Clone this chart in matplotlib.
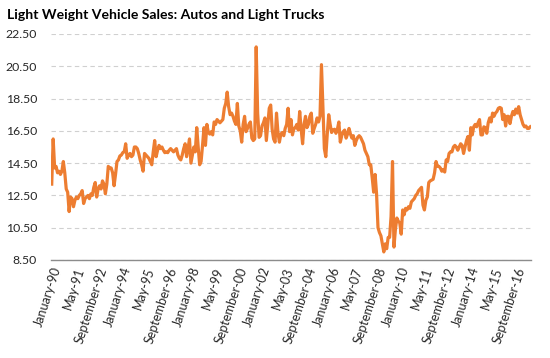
import matplotlib
matplotlib.use("Agg")
import matplotlib.pyplot as plt
import numpy as np

# Monthly light-weight vehicle sales (millions, SAAR), Jan 1990 - Jul 2017
sales_1990s = [
    13.2, 16.0, 14.2, 14.3, 13.9, 14.0, 13.8, 14.0, 14.6, 13.9, 12.9, 12.7,   # 1990
    11.5, 12.4, 12.3, 11.8, 12.2, 12.4, 12.3, 12.5, 12.6, 12.8, 12.0, 12.3,   # 1991
    12.4, 12.5, 12.3, 12.6, 12.5, 13.0, 13.3, 12.4, 12.9, 13.1, 12.9, 13.4,   # 1992
    13.2, 12.6, 13.2, 14.3, 14.2, 14.2, 13.9, 13.1, 13.8, 14.6, 14.7, 14.95,  # 1993
    15.0, 15.15, 15.2, 15.7, 14.8, 15.0, 15.1, 14.9, 15.0, 15.5, 15.5, 15.4,  # 1994
    15.1, 14.7, 14.4, 14.0, 15.1, 15.0, 14.9, 14.8, 14.6, 14.4, 15.2, 15.9,   # 1995
    14.9, 15.3, 15.6, 15.4, 15.5, 15.3, 15.15, 15.2, 15.15, 15.3, 15.4, 15.3, # 1996
    15.2, 15.3, 15.4, 15.0, 14.8, 14.7, 15.0, 15.4, 15.7, 14.9, 15.4, 16.0,   # 1997
    14.5, 15.0, 15.5, 15.2, 16.7, 15.5, 14.4, 14.6, 15.6, 16.7, 15.6, 16.9,   # 1998
    16.4, 16.3, 16.45, 16.25, 17.05, 16.9, 17.2, 17.1, 17.0, 17.1, 17.2, 17.9,# 1999
]
sales_2000s = [
    18.2, 18.9, 18.0, 17.5, 17.6, 17.4, 17.1, 16.9, 18.2, 16.8, 16.5, 15.8,   # 2000
    16.9, 17.4, 16.45, 16.65, 16.9, 17.05, 16.05, 15.9, 16.0, 21.7, 17.6, 16.1,# 2001
    16.2, 16.8, 17.0, 17.3, 15.9, 16.9, 17.9, 18.1, 16.6, 16.0, 15.8, 17.6,   # 2002
    16.4, 15.8, 16.3, 16.4, 16.2, 16.65, 16.9, 17.9, 16.45, 17.2, 16.25, 16.65,# 2003
    16.7, 16.9, 16.55, 17.7, 16.6, 15.7, 16.9, 17.4, 16.7, 16.9, 17.4, 17.6,  # 2004
    16.35, 16.65, 16.9, 17.3, 17.05, 17.4, 20.6, 18.0, 15.4, 14.9, 16.3, 17.5,# 2005
    16.9, 16.4, 16.55, 16.6, 16.35, 16.6, 17.05, 15.8, 16.2, 16.45, 16.55, 16.05,# 2006
    16.3, 16.65, 16.3, 16.05, 16.2, 15.6, 15.9, 16.1, 16.2, 16.1, 15.9, 15.7, # 2007
    15.3, 15.1, 14.9, 14.4, 14.4, 13.6, 12.7, 13.8, 12.6, 10.5, 10.2, 10.0,   # 2008
    9.5, 9.0, 9.5, 9.2, 9.9, 9.9, 11.2, 14.6, 9.3, 10.4, 11.1, 10.9,          # 2009
]
sales_2010s = [
    10.8, 10.1, 11.6, 11.3, 11.7, 11.6, 11.8, 11.7, 12.1, 12.2, 12.3, 12.5,   # 2010
    12.6, 12.8, 12.9, 13.0, 11.9, 11.6, 12.2, 12.4, 13.3, 13.4, 13.45, 13.5,  # 2011
    13.9, 14.6, 14.3, 14.3, 14.2, 14.0, 14.1, 13.95, 14.7, 14.6, 15.1, 15.2,  # 2012
    15.2, 15.5, 15.6, 15.5, 15.3, 15.5, 15.7, 15.6, 15.1, 15.5, 15.9, 16.15,  # 2013
    15.3, 16.7, 16.25, 16.75, 16.9, 16.75, 17.0, 17.2, 16.25, 16.25, 16.75, 16.7,# 2014
    16.35, 17.0, 17.3, 17.05, 17.6, 17.4, 17.6, 17.7, 17.9, 17.95, 17.9, 17.2,# 2015
    17.5, 16.8, 17.4, 17.4, 16.95, 17.4, 17.7, 17.5, 17.85, 17.6, 18.0, 17.5, # 2016
    17.2, 16.9, 16.75, 16.8, 16.65, 16.65, 16.75,                             # 2017
]
sales = sales_1990s + sales_2000s + sales_2010s

tick_labels = ["January-90", "May-91", "September-92", "January-94", "May-95",
               "September-96", "January-98", "May-99", "September-00", "January-02",
               "May-03", "September-04", "January-06", "May-07", "September-08",
               "January-10", "May-11", "September-12", "January-14", "May-15",
               "September-16"]
y_ticks = [8.5, 10.5, 12.5, 14.5, 16.5, 18.5, 20.5, 22.5]
title = "Light Weight Vehicle Sales: Autos and Light Trucks"

plt.rcParams['font.family'] = ['Lato', 'DejaVu Sans']

fig = plt.figure(figsize=(5.5, 3.58), dpi=100)
ax = fig.add_axes([51/550, 1 - 260/358, 480/550, 226/358])

x = np.arange(len(sales))
ax.plot(x, sales, color="#ED7D31", linewidth=2.3, solid_joinstyle="round", zorder=3)

ax.set_ylim(8.5, 22.5)
ax.set_xlim(-0.5, len(sales) - 0.5)
ax.set_yticks(y_ticks)
ax.set_yticklabels([f"{v:.2f}" for v in y_ticks], fontsize=8.8, color="#262626")
ax.yaxis.grid(True, color="#D0D0D0", linestyle=(0, (4, 3)), linewidth=0.8)
ax.set_axisbelow(True)

tick_pos = np.arange(0, len(tick_labels) * 16, 16)
ax.set_xticks(tick_pos)
ax.set_xticklabels(tick_labels, rotation=72, ha="right", va="top",
                   rotation_mode="anchor", fontsize=9, color="#262626")
ax.tick_params(axis="both", length=0, pad=4)
ax.tick_params(axis="y", pad=10)

for s in ["left", "right", "top"]:
    ax.spines[s].set_visible(False)
ax.spines["bottom"].set_color("#8C8C8C")
ax.spines["bottom"].set_linewidth(1.0)

fig.text(7/550, 1 - 15/358, title, fontsize=10.1, fontweight="bold",
         ha="left", va="center", color="black")

fig.savefig("out.png", dpi=100)
